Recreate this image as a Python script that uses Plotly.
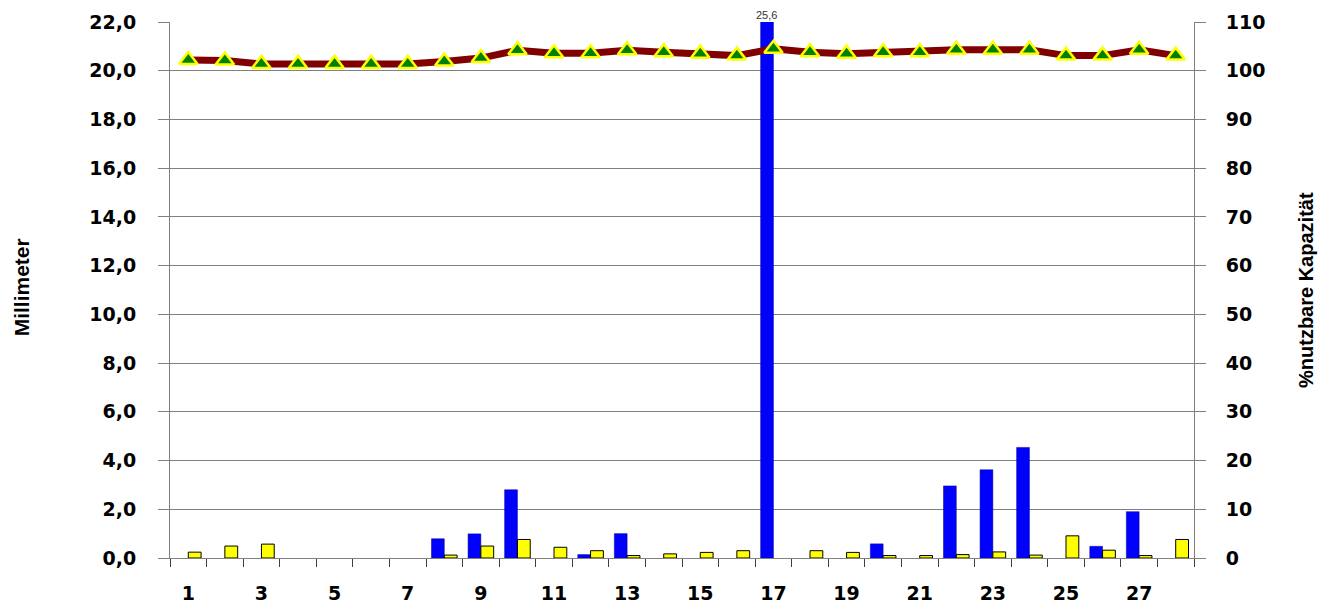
import plotly.graph_objects as go

days = list(range(1, 29))
niederschlag = [None, None, None, None, None, None, None, 0.79, 0.99, 2.80,
                None, 0.14, 1.00, None, None, None, 25.6, None, None, 0.58,
                None, 2.96, 3.62, 4.54, None, 0.48, 1.90, None]
verdunstung = [0.24, 0.49, 0.57, None, None, None, None, 0.12, 0.49, 0.76,
               0.44, 0.30, 0.10, 0.17, 0.23, 0.30, None, 0.30, 0.23, 0.10,
               0.10, 0.14, 0.25, 0.12, 0.91, 0.32, 0.10, 0.76]
kapazitaet = [102.2, 102.1, 101.4, 101.4, 101.4, 101.4, 101.4, 101.9, 102.6, 104.2,
              103.6, 103.6, 104.2, 103.8, 103.5, 103.1, 104.5, 103.8, 103.5, 103.8,
              103.8, 104.3, 104.3, 104.3, 103.1, 103.1, 104.3, 103.1]
x_tick_vals = list(range(1, 29, 2))
x_tick_text = [str(v) for v in x_tick_vals]

GRID = "#808080"
TICKFONT = dict(family="DejaVu Sans", size=19, color="black", weight="bold")

fig = go.Figure()
fig.add_trace(go.Bar(x=days, y=niederschlag, name="Niederschlag",
                     marker=dict(color="#0000FF", line=dict(color="#00008B", width=0.5))))
fig.add_trace(go.Bar(x=days, y=verdunstung, name="Verdunstung",
                     marker=dict(color="#FFFF00", line=dict(color="#000000", width=1))))
fig.add_trace(go.Scatter(x=days, y=kapazitaet, yaxis="y2", mode="lines+markers",
                         line=dict(color="#800000", width=7),
                         marker=dict(symbol="triangle-up", size=16, color="#008000",
                                     line=dict(color="#FFFF00", width=2.5))))

big_idx = max(range(len(niederschlag)), key=lambda i: niederschlag[i] or 0)
big_val = niederschlag[big_idx]
fig.add_annotation(x=days[big_idx] - 0.2, y=1, xref="x", yref="paper", yanchor="bottom",
                   xanchor="center", yshift=0, showarrow=False, borderpad=0,
                   text=f"{big_val:.1f}".replace(".", ","),
                   font=dict(family="Liberation Sans", size=11, color="#333333"))

fig.add_annotation(x=(21 - 170) / 1024, y=0.505, xref="paper", yref="paper",
                   xanchor="center", yanchor="middle",
                   text="Millimeter", textangle=-90, showarrow=False,
                   font=dict(family="Liberation Sans", size=21, color="black", weight="bold"))
fig.add_annotation(x=(1306 - 170) / 1024, y=0.5, xref="paper", yref="paper",
                   xanchor="center", yanchor="middle",
                   text="%nutzbare Kapazität", textangle=-90, showarrow=False,
                   font=dict(family="Liberation Sans", size=20, color="black", weight="bold"))

fig.update_layout(
    width=1330, height=602,
    margin=dict(l=162, r=144, t=14, b=52),
    paper_bgcolor="white", plot_bgcolor="white",
    showlegend=False, separators=",.",
    barmode="group", bargap=0.3, bargroupgap=0,
    xaxis=dict(range=[0.5, 28.5], tickmode="array", tickvals=x_tick_vals, ticktext=x_tick_text,
               ticks="", showgrid=False, zeroline=False, showline=True, linecolor=GRID,
               linewidth=1, tickfont=TICKFONT, ticklabelstandoff=18, automargin=False,
               minor=dict(tick0=0.5, dtick=1, ticks="outside", ticklen=8,
                          tickcolor="#404040", showgrid=False)),
    yaxis=dict(range=[0, 22], dtick=2, tickformat=".1f", showgrid=True, gridcolor=GRID,
               gridwidth=1, zeroline=False, showline=True, linecolor=GRID, linewidth=1,
               ticks="outside", ticklen=11, tickcolor=GRID, tickfont=TICKFONT,
               ticklabelstandoff=18, automargin=False),
    yaxis2=dict(range=[0, 110], dtick=10, overlaying="y", side="right", showgrid=False,
                zeroline=False, showline=True, linecolor=GRID, linewidth=1,
                ticks="outside", ticklen=11, tickcolor=GRID, tickfont=TICKFONT,
                ticklabelstandoff=16, automargin=False),
)

fig.write_html("out.html")
